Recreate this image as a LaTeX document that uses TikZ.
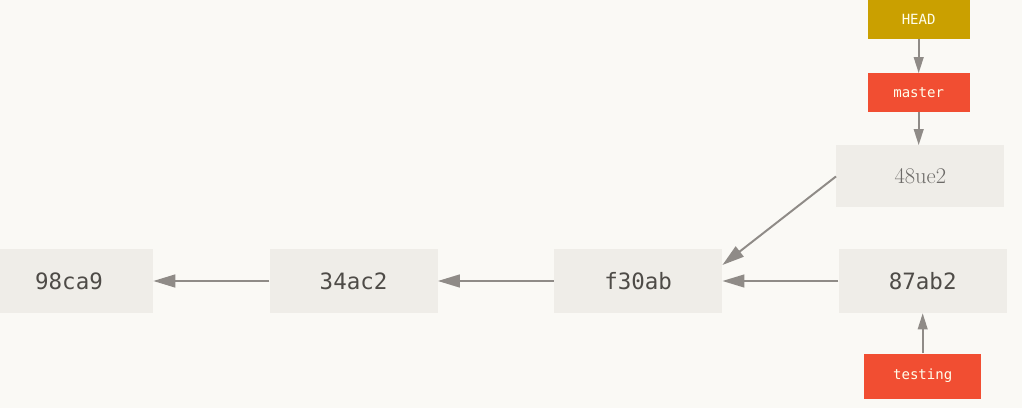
\documentclass[tikz,border=0pt]{standalone}
\usepackage{fontspec}
\setmonofont{DejaVu Sans Mono}
\usepackage{xcolor}
\usepackage{tikz}
\usetikzlibrary{arrows.meta,positioning}
\definecolor{paper}{RGB}{250,249,245}
\definecolor{commitfill}{RGB}{239,237,232}
\definecolor{committext}{RGB}{78,75,71}
\definecolor{softtext}{RGB}{108,106,103}
\definecolor{linkgray}{RGB}{143,139,135}
\definecolor{headgold}{RGB}{202,160,0}
\definecolor{branchred}{RGB}{241,78,50}

\begin{document}
\begin{tikzpicture}[
    node distance=1cm and 2.9cm,
    commit/.style={rectangle, fill=commitfill, minimum width=4.2cm, minimum height=1.6cm, inner sep=0pt, text=committext, font=\ttfamily\fontsize{16}{16}\selectfont},
    pointer/.style={rectangle, minimum width=2.55cm, minimum height=0.96cm, inner sep=0pt, text=white!92!yellow, font=\ttfamily\fontsize{10}{10}\selectfont},
    link/.style={-{Triangle[length=0.55cm, width=0.32cm]}, line width=1.4pt, linkgray},
    smalllink/.style={-{Triangle[length=0.4cm, width=0.24cm]}, line width=1.4pt, linkgray}
]
    \useasboundingbox[fill=paper] (0,0) rectangle (25.55,-10.2);

    % Commits
    \node[commit] (c98) at (1.725,-7.025) {98ca9};
    \node[commit, right=of c98] (c34) {34ac2};
    \node[commit, right=of c34] (cf3) {f30ab};
    \node[commit, right=of cf3] (c87) {87ab2};
    \node[commit, above=1.025cm of c87, xshift=-0.06cm, minimum height=1.55cm, text=softtext, font=\rmfamily\fontsize{16}{16}\selectfont] (c48) {48ue2};

    % Branches
    \node[pointer, fill=branchred, above=0.825cm of c48, xshift=-0.04cm] (master) {master};
    \node[pointer, fill=headgold, above=0.85cm of master, minimum height=0.975cm] (head) {HEAD};
    \node[pointer, fill=branchred, below=1cm of c87, minimum width=2.925cm, minimum height=1.125cm] (testing) {testing};

    % Parents
    \draw[link] (c34) -- (c98);
    \draw[link] (cf3) -- (c34);
    \draw[link] (c87) -- (cf3);
    \draw[link] (c48.west) -- ([yshift=0.4cm]cf3.east);

    % Refs
    \draw[smalllink] (head) -- (master);
    \draw[smalllink] (master.south) -- (master.south |- c48.north);
    \draw[smalllink] (testing) -- (c87);
\end{tikzpicture}
\end{document}
